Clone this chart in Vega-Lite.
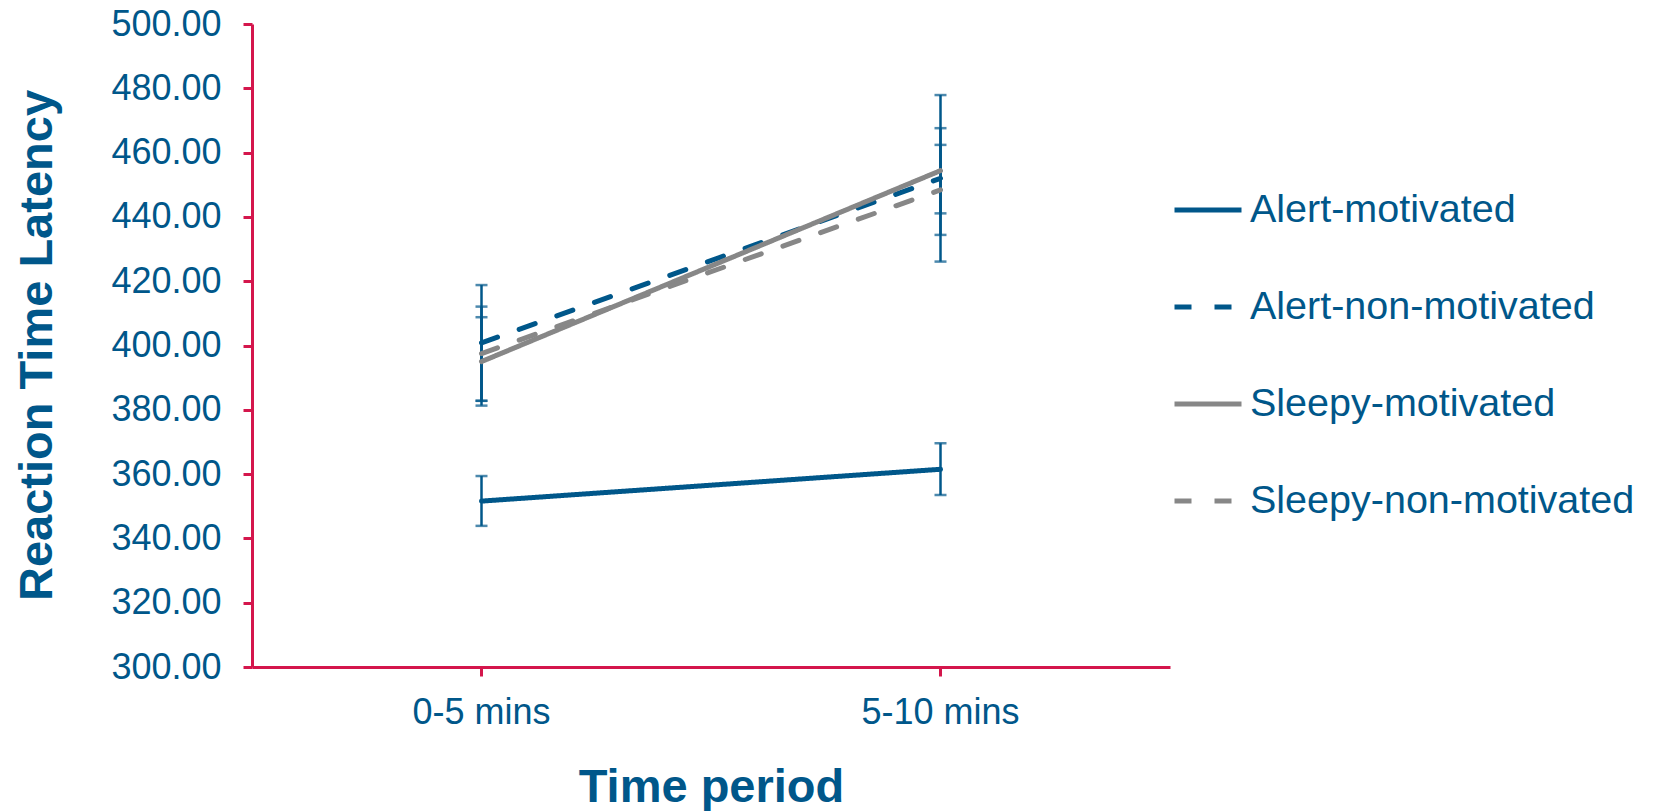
{
  "$schema": "https://vega.github.io/schema/vega-lite/v6.json",
  "width": 918,
  "height": 643,
  "autosize": {"type": "none"},
  "padding": {"left": 252, "top": 24, "right": 487, "bottom": 144},
  "background": "white",
  "config": {
    "view": {"stroke": null},
    "font": "Liberation Sans"
  },
  "data": {
    "values": [
      {"series": "Alert-motivated", "period": "0-5 mins", "mean": 351.6, "lo": 343.9, "hi": 359.4},
      {"series": "Alert-motivated", "period": "5-10 mins", "mean": 361.5, "lo": 353.5, "hi": 369.6},
      {"series": "Alert-non-motivated", "period": "0-5 mins", "mean": 400.8, "lo": 382.8, "hi": 418.8},
      {"series": "Alert-non-motivated", "period": "5-10 mins", "mean": 452.0, "lo": 426.1, "hi": 477.9},
      {"series": "Sleepy-motivated", "period": "0-5 mins", "mean": 395.0, "lo": 381.3, "hi": 408.8},
      {"series": "Sleepy-motivated", "period": "5-10 mins", "mean": 454.4, "lo": 441.1, "hi": 467.6},
      {"series": "Sleepy-non-motivated", "period": "0-5 mins", "mean": 397.5, "lo": 382.8, "hi": 412.1},
      {"series": "Sleepy-non-motivated", "period": "5-10 mins", "mean": 448.4, "lo": 434.4, "hi": 462.4}
    ]
  },
  "encoding": {
    "x": {
      "field": "period",
      "type": "nominal",
      "scale": {"type": "band", "paddingInner": 0, "paddingOuter": 0},
      "axis": {
        "title": "Time period",
        "labelAngle": 0,
        "labelFont": "Liberation Sans",
        "labelFontSize": 36,
        "labelColor": "#00578A",
        "labelBaseline": "top",
        "labelPadding": 19,
        "tickSize": 9,
        "tickWidth": 3,
        "tickColor": "#D4164C",
        "domainColor": "#D4164C",
        "domainWidth": 3,
        "titleFont": "Liberation Sans",
        "titleFontSize": 47,
        "titleFontWeight": "bold",
        "titleColor": "#00578A",
        "titleX": 459,
        "titleY": 120,
        "titleBaseline": "middle",
        "titleAlign": "center"
      }
    }
  },
  "layer": [
    {
      "mark": {"type": "rule", "color": "#00578A", "strokeWidth": 2.5},
      "encoding": {
        "y": {"field": "lo", "type": "quantitative"},
        "y2": {"field": "hi"}
      }
    },
    {
      "mark": {"type": "tick", "color": "#00578A", "size": 12, "thickness": 2.5, "orient": "horizontal"},
      "encoding": {"y": {"field": "lo", "type": "quantitative"}}
    },
    {
      "mark": {"type": "tick", "color": "#00578A", "size": 12, "thickness": 2.5, "orient": "horizontal"},
      "encoding": {"y": {"field": "hi", "type": "quantitative"}}
    },
    {
      "mark": {"type": "line", "strokeWidth": 5, "strokeCap": "round"},
      "encoding": {
        "y": {
          "field": "mean",
          "type": "quantitative",
          "scale": {"domain": [300, 500], "nice": false, "zero": false},
          "axis": {
            "title": "Reaction Time Latency",
            "values": [300, 320, 340, 360, 380, 400, 420, 440, 460, 480, 500],
            "format": ".2f",
            "grid": false,
            "labelFont": "Liberation Sans",
            "labelFontSize": 36,
            "labelColor": "#00578A",
            "labelPadding": 22,
            "tickSize": 9,
            "tickWidth": 3,
            "tickColor": "#D4164C",
            "domainColor": "#D4164C",
            "domainWidth": 3,
            "titleFont": "Liberation Sans",
            "titleFontSize": 47,
            "titleFontWeight": "bold",
            "titleColor": "#00578A",
            "titleAngle": -90,
            "titleX": -215,
            "titleY": 321,
            "titleAlign": "center",
            "titleBaseline": "middle"
          }
        },
        "color": {
          "field": "series",
          "type": "nominal",
          "scale": {
            "domain": ["Alert-motivated", "Alert-non-motivated", "Sleepy-motivated", "Sleepy-non-motivated"],
            "range": ["#00578A", "#00578A", "#878787", "#878787"]
          },
          "legend": {
            "title": null,
            "orient": "none",
            "legendX": 920,
            "legendY": 150,
            "padding": 0,
            "symbolType": "stroke",
            "symbolSize": 4489,
            "symbolStrokeWidth": 5,
            "labelFont": "Liberation Sans",
            "labelFontSize": 39.5,
            "labelColor": "#00578A",
            "labelOffset": 6,
            "rowPadding": 41,
            "labelLimit": 600
          }
        },
        "strokeDash": {
          "field": "series",
          "type": "nominal",
          "scale": {
            "domain": ["Alert-motivated", "Alert-non-motivated", "Sleepy-motivated", "Sleepy-non-motivated"],
            "range": [[1, 0], [17, 23], [1, 0], [17, 23]]
          },
          "legend": null
        }
      }
    }
  ]
}
